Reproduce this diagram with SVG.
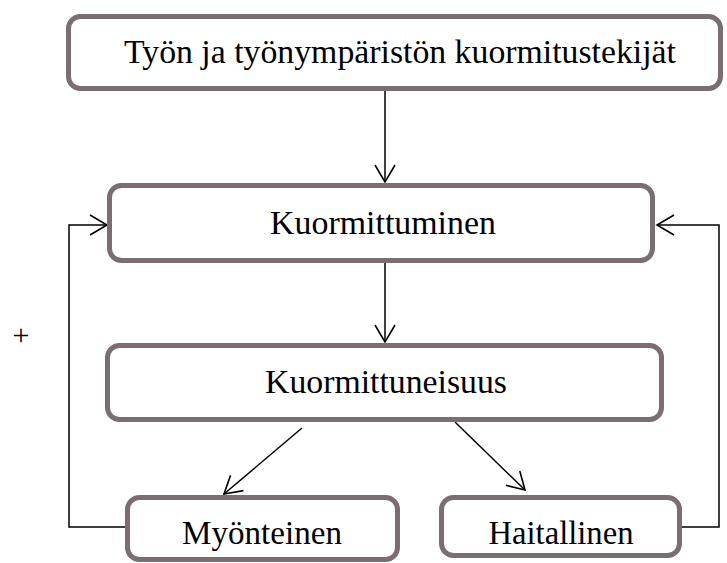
<svg xmlns="http://www.w3.org/2000/svg" width="727" height="563" viewBox="0 0 727 563">
<style>
.box{fill:#ffffff;stroke:#7b6e72;stroke-width:5}
.lbl{font-family:"Liberation Serif","Times New Roman",serif;font-size:33px;fill:#000;text-anchor:middle}
.con{fill:none;stroke:#000;stroke-width:1.5}
</style>
<defs>
<marker id="ah" markerUnits="userSpaceOnUse" markerWidth="24" markerHeight="24" viewBox="-20 -12 24 24" refX="0" refY="0" orient="auto">
<path d="M-17,-10 L0,0 L-17,10" fill="none" stroke="#000" stroke-width="1.6"/>
</marker>
</defs>
<rect width="727" height="563" fill="#fff"/>
<g id="connectors">
<line class="con" x1="385" y1="91" x2="385" y2="182" marker-end="url(#ah)"/>
<line class="con" x1="385" y1="263" x2="385" y2="342" marker-end="url(#ah)"/>
<line class="con" x1="302" y1="428" x2="224" y2="494" marker-end="url(#ah)"/>
<line class="con" x1="455" y1="422" x2="525" y2="490" marker-end="url(#ah)"/>
<polyline class="con" points="125,527 69,527 69,225 107,225" marker-end="url(#ah)"/>
<polyline class="con" points="682,527 719,527 719,225 657,225" marker-end="url(#ah)"/>
</g>
<g id="node-tekijat">
<rect class="box" x="68.5" y="16.5" width="652" height="72" rx="12"/>
<text class="lbl" x="400" y="63" textLength="552" lengthAdjust="spacingAndGlyphs">Työn ja työnympäristön kuormitustekijät</text>
</g>
<g id="node-kuormittuminen">
<rect class="box" x="109.5" y="185.5" width="543" height="75" rx="12"/>
<text class="lbl" x="383" y="234" textLength="226" lengthAdjust="spacingAndGlyphs">Kuormittuminen</text>
</g>
<g id="node-kuormittuneisuus">
<rect class="box" x="107.5" y="345.5" width="554" height="74" rx="12"/>
<text class="lbl" x="386" y="393" textLength="242" lengthAdjust="spacingAndGlyphs">Kuormittuneisuus</text>
</g>
<g id="node-myonteinen">
<rect class="box" x="127.5" y="497.5" width="270" height="62" rx="12"/>
<text class="lbl" x="262" y="544" textLength="160" lengthAdjust="spacingAndGlyphs">Myönteinen</text>
</g>
<g id="node-haitallinen">
<rect class="box" x="441.5" y="497.5" width="238" height="58" rx="12"/>
<text class="lbl" x="561" y="544" textLength="145" lengthAdjust="spacingAndGlyphs">Haitallinen</text>
</g>
<text x="21" y="345" font-family="Liberation Serif, serif" font-size="30" text-anchor="middle">+</text>
</svg>
